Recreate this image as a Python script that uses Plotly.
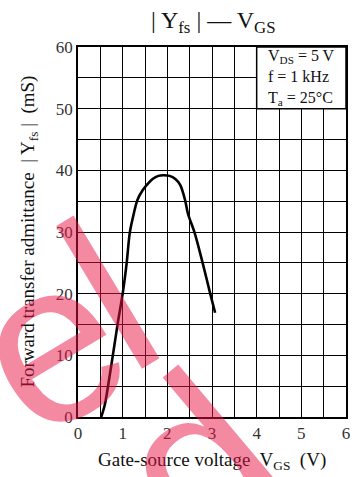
import plotly.graph_objects as go

# Data
vgs = [0.52, 0.60, 0.67, 0.78, 0.89, 1.00, 1.09, 1.16, 1.25, 1.33, 1.45, 1.56, 1.67, 1.80, 1.91,
       2.05, 2.18, 2.29, 2.40, 2.46, 2.61, 2.79, 2.96, 3.07]
yfs = [0.0, 2.0, 4.9, 10.0, 15.2, 20.0, 25.0, 29.9, 33.0, 35.2, 36.8, 37.8, 38.6, 39.1, 39.2,
       39.1, 38.6, 37.6, 35.1, 33.0, 29.9, 25.0, 20.0, 16.9]

x_ticks = [0, 1, 2, 3, 4, 5, 6]
y_ticks = [0, 10, 20, 30, 40, 50, 60]

cond_lines = ["V<sub>DS</sub> = 5 V", "f = 1 kHz", "T<sub>a</sub> = 25°C"]

SERIF = "Liberation Serif"

fig = go.Figure()
fig.add_trace(go.Scatter(x=vgs, y=yfs, mode="lines",
                         line=dict(color="black", width=2.6, shape="spline", smoothing=0.9),
                         showlegend=False, hoverinfo="skip"))

axis_common = dict(showline=True, mirror=True, linecolor="black", linewidth=1.5,
                   showgrid=True, gridcolor="black", gridwidth=1, zeroline=False,
                   ticks="", tickfont=dict(family=SERIF, size=17, color="#333"))

fig.update_xaxes(range=[0, 6], tickvals=x_ticks, ticktext=[str(v) for v in x_ticks],
                 minor=dict(dtick=0.5, showgrid=True, gridcolor="black", gridwidth=1),
                 **axis_common)
fig.update_yaxes(range=[0, 60], tickvals=y_ticks, ticktext=[str(v) for v in y_ticks],
                 minor=dict(dtick=5, showgrid=True, gridcolor="black", gridwidth=1),
                 **axis_common)

# condition box
fig.add_shape(type="rect", xref="x", yref="y", x0=4, x1=6, y0=50, y1=60,
              fillcolor="white", line=dict(color="black", width=1.5), layer="above")
fig.add_annotation(xref="x", yref="y", x=4.2, y=55.1, xanchor="left", yanchor="middle",
                   text="<br>".join(cond_lines), align="left", showarrow=False,
                   font=dict(family=SERIF, size=16, color="#111"))

# title
fig.add_annotation(xref="paper", yref="paper", x=(215 - 78) / 271, y=(417 - 22) / 370,
                   text="| Y<sub>fs</sub> | — V<sub>GS</sub>", showarrow=False,
                   xanchor="center", yanchor="middle",
                   font=dict(family=SERIF, size=24, color="#111"))
# axis titles
fig.add_annotation(xref="paper", yref="paper", x=(213 - 78) / 271, y=(417 - 461) / 370,
                   text="Gate-source voltage  V<sub>GS</sub>  (V)", showarrow=False,
                   xanchor="center", yanchor="middle",
                   font=dict(family=SERIF, size=19, color="#111"))
fig.add_annotation(xref="paper", yref="paper", x=(28 - 78) / 271, y=(417 - 232) / 370,
                   text="Forward transfer admittance  | Y<sub>fs</sub> |  (mS)", showarrow=False,
                   textangle=-90, xanchor="center", yanchor="middle",
                   font=dict(family=SERIF, size=19, color="#111"))

# watermark (approximate)
wm = "rgba(233,20,70,0.5)"
wm_marks = [("e", 48, 342, -31), ("l", 110, 295, -31), ("d", 198, 462, -40)]
for ch, px, py, ang in wm_marks:
    fig.add_annotation(xref="paper", yref="paper", x=(px - 78) / 271, y=(417 - py) / 370,
                       text=ch, showarrow=False, textangle=ang, xanchor="center", yanchor="middle",
                       font=dict(family="Liberation Sans", size=230, color=wm))

fig.update_layout(width=362, height=477, margin=dict(l=78, r=13, t=47, b=60),
                  paper_bgcolor="white", plot_bgcolor="white")

fig.write_html("out.html")
